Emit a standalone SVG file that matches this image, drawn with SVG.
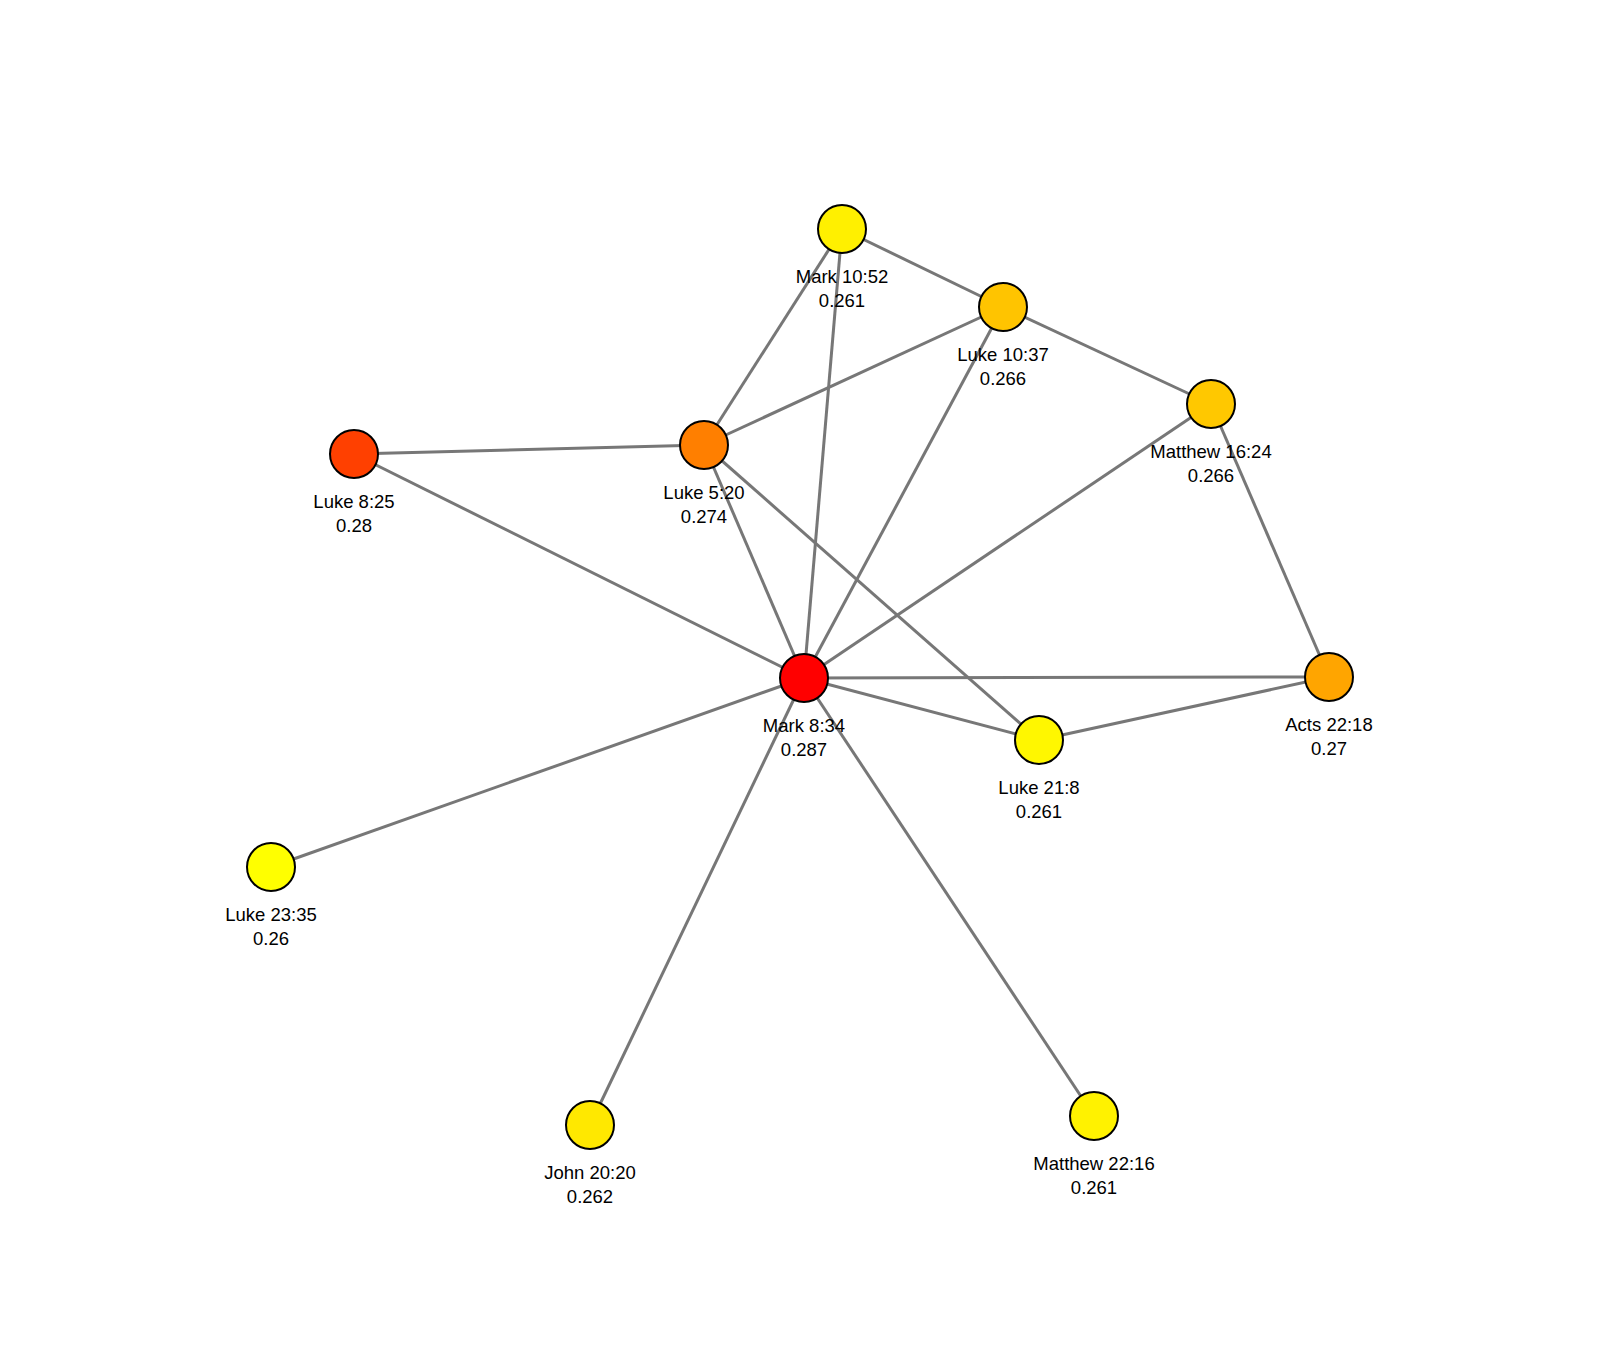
<svg xmlns="http://www.w3.org/2000/svg" width="1600" height="1354" viewBox="0 0 1600 1354">
<style>
.e{stroke:#777;stroke-width:3;fill:none}
.n circle{stroke:#000;stroke-width:2}
.n text{font-family:"Liberation Sans",Arial,sans-serif;font-size:18.5px;fill:#000;text-anchor:middle}
</style>
<rect width="1600" height="1354" fill="#fff"/>
<g id="edges">
<line class="e" x1="842" y1="229" x2="1003" y2="307"/>
<line class="e" x1="842" y1="229" x2="704" y2="445"/>
<line class="e" x1="842" y1="229" x2="804" y2="678"/>
<line class="e" x1="1003" y1="307" x2="1211" y2="404"/>
<line class="e" x1="1003" y1="307" x2="704" y2="445"/>
<line class="e" x1="1003" y1="307" x2="804" y2="678"/>
<line class="e" x1="1211" y1="404" x2="804" y2="678"/>
<line class="e" x1="1211" y1="404" x2="1329" y2="677"/>
<line class="e" x1="354" y1="454" x2="704" y2="445"/>
<line class="e" x1="354" y1="454" x2="804" y2="678"/>
<line class="e" x1="704" y1="445" x2="804" y2="678"/>
<line class="e" x1="704" y1="445" x2="1039" y2="740"/>
<line class="e" x1="804" y1="678" x2="1329" y2="677"/>
<line class="e" x1="804" y1="678" x2="1039" y2="740"/>
<line class="e" x1="1039" y1="740" x2="1329" y2="677"/>
<line class="e" x1="804" y1="678" x2="271" y2="867"/>
<line class="e" x1="804" y1="678" x2="590" y2="1125"/>
<line class="e" x1="804" y1="678" x2="1094" y2="1116"/>
</g>
<g id="mark10_52" class="n"><circle cx="842" cy="229" r="24" fill="#FFF000"/><text x="842" y="283">Mark 10:52</text><text x="842" y="307">0.261</text></g>
<g id="luke10_37" class="n"><circle cx="1003" cy="307" r="24" fill="#FFC400"/><text x="1003" y="361">Luke 10:37</text><text x="1003" y="385">0.266</text></g>
<g id="matthew16_24" class="n"><circle cx="1211" cy="404" r="24" fill="#FFC800"/><text x="1211" y="458">Matthew 16:24</text><text x="1211" y="482">0.266</text></g>
<g id="luke8_25" class="n"><circle cx="354" cy="454" r="24" fill="#FF4000"/><text x="354" y="508">Luke 8:25</text><text x="354" y="532">0.28</text></g>
<g id="luke5_20" class="n"><circle cx="704" cy="445" r="24" fill="#FF7F00"/><text x="704" y="499">Luke 5:20</text><text x="704" y="523">0.274</text></g>
<g id="mark8_34" class="n"><circle cx="804" cy="678" r="24" fill="#FF0000"/><text x="804" y="732">Mark 8:34</text><text x="804" y="756">0.287</text></g>
<g id="acts22_18" class="n"><circle cx="1329" cy="677" r="24" fill="#FFA500"/><text x="1329" y="731">Acts 22:18</text><text x="1329" y="755">0.27</text></g>
<g id="luke21_8" class="n"><circle cx="1039" cy="740" r="24" fill="#FFF700"/><text x="1039" y="794">Luke 21:8</text><text x="1039" y="818">0.261</text></g>
<g id="luke23_35" class="n"><circle cx="271" cy="867" r="24" fill="#FFFF00"/><text x="271" y="921">Luke 23:35</text><text x="271" y="945">0.26</text></g>
<g id="john20_20" class="n"><circle cx="590" cy="1125" r="24" fill="#FFE800"/><text x="590" y="1179">John 20:20</text><text x="590" y="1203">0.262</text></g>
<g id="matthew22_16" class="n"><circle cx="1094" cy="1116" r="24" fill="#FFF200"/><text x="1094" y="1170">Matthew 22:16</text><text x="1094" y="1194">0.261</text></g>
</svg>
